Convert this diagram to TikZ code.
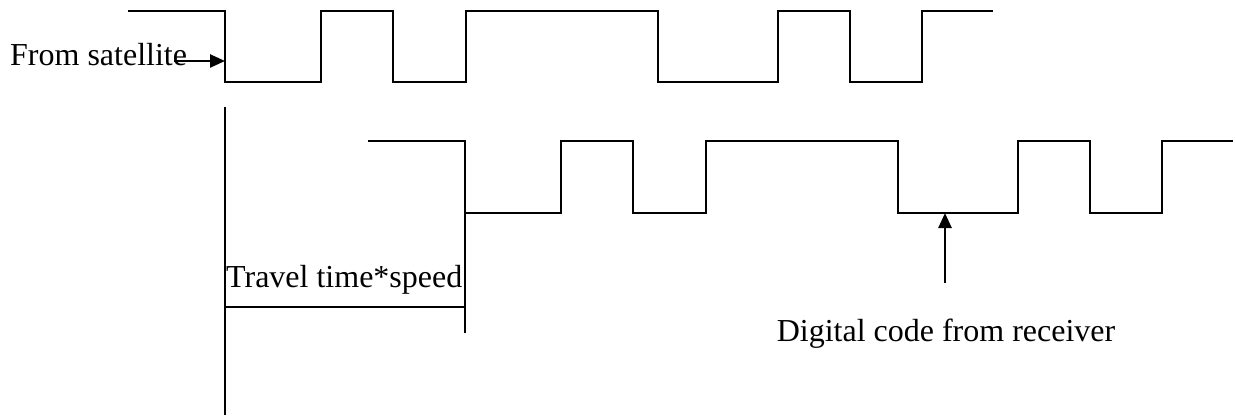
\documentclass[tikz,border=0pt]{standalone}
\usepackage{fontspec}
\setmainfont{Liberation Serif}
\usetikzlibrary{arrows.meta,positioning,calc}

\begin{document}
\begin{tikzpicture}[
  x=1pt, y=-1pt,
  wave/.style={line width=2.5pt, line join=miter},
  rule/.style={line width=2.5pt},
  lbl/.style={font=\fontsize{32}{38}\selectfont, inner sep=0pt},
  arr/.style={-{Triangle[length=15pt,width=13pt]}, line width=2.5pt},
]
  \useasboundingbox (0,0) rectangle (1235,417);

  % signal from the satellite
  \draw[wave] (128,11) -- (225,11) -- (225,82) -- (321,82) -- (321,11) -- (393,11) -- (393,82)
    -- (466,82) -- (466,11) -- (658,11) -- (658,82) -- (778,82) -- (778,11) -- (850,11)
    -- (850,82) -- (922,82) -- (922,11) -- (993,11);
  \coordinate (sedge) at (225,61);

  % code from the receiver, shifted by the travel time
  \draw[wave] (368,141) -- (465,141) -- (465,213) -- (561,213) -- (561,141) -- (633,141) -- (633,213)
    -- (706,213) -- (706,141) -- (898,141) -- (898,213) -- (1018,213) -- (1018,141) -- (1090,141)
    -- (1090,213) -- (1162,213) -- (1162,141) -- (1233,141);
  \coordinate (rlow) at (945,213);

  % markers for the shift
  \coordinate (m0top) at (225,107);
  \coordinate (m0bot) at (225,415);
  \coordinate (m1top) at (465,213);
  \coordinate (m1bot) at (465,333);
  \coordinate (d0) at (225,307);
  \coordinate (d1) at (465,307);
  \draw[rule] (m0top) -- (m0bot);
  \draw[rule] (m1top) -- (m1bot);
  \draw[rule] (d0) -- (d1);

  \node[lbl, anchor=base west] (sat) at (10,66) {From satellite};
  \node[lbl, anchor=base west] (dist) at (226,287) {Travel time*speed};
  \node[lbl, anchor=base] (rcv) at (946,341) {Digital code from receiver};
  \coordinate (stail) at (174,61);
  \coordinate (rtail) at (945,283);

  \draw[arr] (stail) -- (sedge);
  \draw[arr] (rtail) -- (rlow);
\end{tikzpicture}
\end{document}
